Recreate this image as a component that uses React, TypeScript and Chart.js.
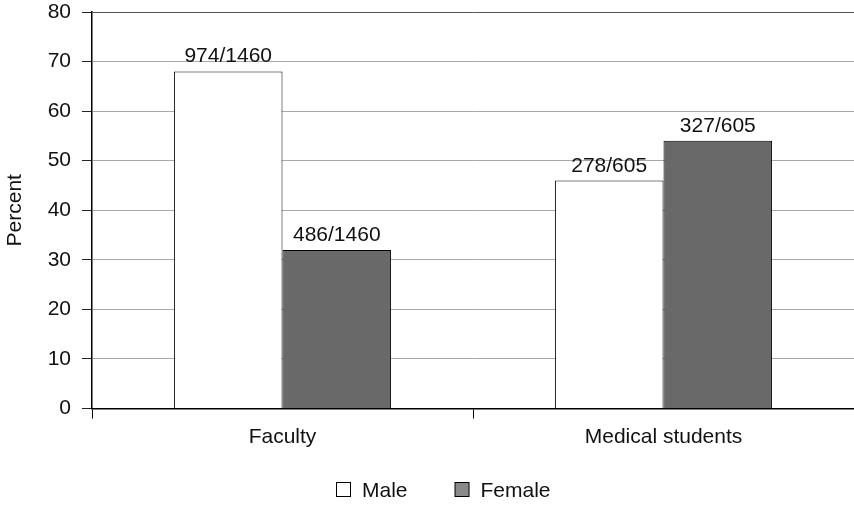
import React, { useEffect, useRef } from "react";
import { Chart, registerables } from "chart.js";

Chart.register(...registerables);

const categories = ["Faculty", "Medical students"];
const maleValues = [68, 46];
const femaleValues = [32, 54];
const maleLabels = ["974/1460", "278/605"];
const femaleLabels = ["486/1460", "327/605"];
const yTicks = [0, 10, 20, 30, 40, 50, 60, 70, 80];
const legendColors = ["#ffffff", "#8a8a8a"];

const FONT = '"Liberation Sans", Arial, sans-serif';
const FS = 21;

const barLabelPlugin = {
  id: "barLabels",
  afterDatasetsDraw(chart: any) {
    const ctx = chart.ctx;
    ctx.save();
    ctx.font = `${FS}px ${FONT}`;
    ctx.fillStyle = "#111";
    ctx.textAlign = "center";
    ctx.textBaseline = "alphabetic";
    chart.data.datasets.forEach((ds: any, di: number) => {
      const meta = chart.getDatasetMeta(di);
      const labels = ds.barLabels as string[];
      meta.data.forEach((el: any, i: number) => {
        ctx.fillText(labels[i], el.x, el.y - 9);
      });
    });
    ctx.restore();
  },
};

const legendPlugin = {
  id: "customLegend",
  afterDraw(chart: any) {
    const ctx = chart.ctx;
    ctx.save();
    ctx.font = `${FS}px ${FONT}`;
    ctx.textBaseline = "middle";
    ctx.textAlign = "left";
    const cy = 490;
    let x = 336;
    chart.data.datasets.forEach((ds: any, i: number) => {
      ctx.fillStyle = legendColors[i];
      ctx.fillRect(x + 0.5, cy - 7.5, 14, 14);
      ctx.strokeStyle = "#000";
      ctx.lineWidth = 1;
      ctx.strokeRect(x + 0.5, cy - 7.5, 14, 14);
      ctx.fillStyle = "#111";
      ctx.fillText(ds.label, x + 26, cy + 1);
      const w = ctx.measureText(ds.label).width;
      x += 26 + w + 47;
    });
    ctx.restore();
  },
};

export default function App() {
  const ref = useRef<HTMLCanvasElement>(null);
  useEffect(() => {
    if (!ref.current) return;
    const chart = new Chart(ref.current, {
      type: "bar",
      data: {
        labels: categories,
        datasets: [
          {
            label: "Male",
            data: maleValues,
            backgroundColor: "#ffffff",
            borderColor: "#000000",
            borderWidth: 1,
            barPercentage: 1,
            categoryPercentage: 0.57,
            barLabels: maleLabels,
          } as any,
          {
            label: "Female",
            data: femaleValues,
            backgroundColor: "#696969",
            borderColor: "#000000",
            borderWidth: 1,
            barPercentage: 1,
            categoryPercentage: 0.57,
            barLabels: femaleLabels,
          } as any,
        ],
      },
      options: {
        animation: false,
        responsive: false,
        maintainAspectRatio: false,
        layout: { padding: { top: 12, right: 0, left: 0, bottom: 49.5 } },
        plugins: {
          tooltip: { enabled: false },
          legend: { display: false },
        },
        scales: {
          x: {
            border: { color: "#000", width: 1.5 },
            grid: {
              offset: true,
              drawOnChartArea: false,
              drawTicks: true,
              tickLength: 10,
              tickColor: "#000",
            },
            ticks: {
              font: { family: FONT, size: FS },
              color: "#111",
              padding: 6,
            },
            afterFit: (scale: any) => {
              scale.height = 50;
              scale.paddingLeft = 0;
              scale.paddingRight = 0;
            },
          },
          y: {
            min: 0,
            max: 80,
            afterBuildTicks: (scale: any) => {
              scale.ticks = yTicks.map((v) => ({ value: v }));
            },
            border: { color: "#000", width: 1.5 },
            grid: {
              color: (c: any) => (c.tick && c.tick.value === 80 ? "#555" : "#a8a8a8"),
              tickColor: "#222",
              tickLength: 10,
            },
            ticks: {
              font: { family: FONT, size: FS },
              color: "#111",
              padding: 11,
            },
            title: {
              display: true,
              text: "Percent",
              font: { family: FONT, size: FS },
              color: "#111",
              padding: { top: 3, bottom: 0 },
            },
            afterFit: (scale: any) => {
              scale.width = 92;
              scale.paddingTop = 0;
              scale.paddingBottom = 0;
            },
          },
        },
      },
      plugins: [barLabelPlugin, legendPlugin],
    });
    return () => chart.destroy();
  }, []);
  return (
    <div style={{ position: "fixed", left: 0, top: 0, width: 854, height: 508, background: "#fff" }}>
      <canvas ref={ref} width={854} height={508} style={{ width: 854, height: 508 }} />
    </div>
  );
}
